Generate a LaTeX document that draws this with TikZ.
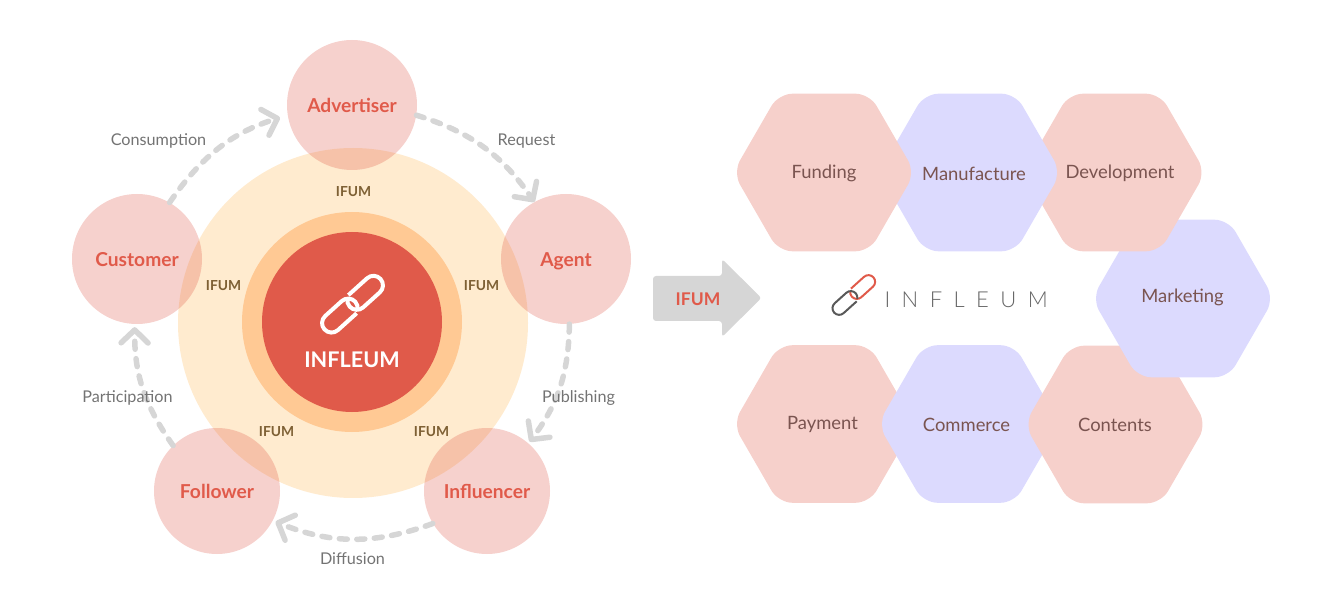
\documentclass[tikz,border=0pt]{standalone}
\usepackage{fontspec}
\setmainfont{Lato}
\newfontfamily\logofont[LetterSpace=52]{Lato Light}
\usetikzlibrary{positioning, arrows.meta, shapes.geometric}

\definecolor{infred}{HTML}{E05A4A}
\definecolor{infpink}{HTML}{F6D0CB}
\definecolor{inflav}{HTML}{DCDAFE}
\definecolor{infsand}{HTML}{FFEBCF}
\definecolor{infpeach}{HTML}{FFC994}
\definecolor{infgray}{HTML}{D6D6D6}
\definecolor{infbrown}{HTML}{7E6034}
\definecolor{infplum}{HTML}{7A5450}

\tikzset{
    role/.style={circle, fill=infred, fill opacity=.28, text opacity=1, text=infred, inner sep=0pt,
        text height=15pt, text depth=0pt, font=\fontsize{19.2}{20}\selectfont\bfseries},
    flow/.style={draw=infgray, line width=5.5pt, line cap=round, dash pattern=on 8pt off 9.5pt,
        -{Straight Barb[length=13pt, width=27pt, round, line width=5.5pt]}},
    flowlabel/.style={text=black!55, text height=12.5pt, text depth=0pt, font=\fontsize{16.2}{18}\selectfont},
    ifumlabel/.style={text=infbrown, text height=11.5pt, text depth=0pt, font=\fontsize{13.8}{18}\selectfont\bfseries},
    hexa/.style={regular polygon, regular polygon sides=6, inner sep=0pt,
        minimum size=182pt, rounded corners=14pt},
    hexlabel/.style={text=infplum, text height=14.5pt, text depth=0pt, font=\fontsize{18.4}{20}\selectfont},
}

\newcommand{\chainlogo}[5]{
    \begin{scope}[shift={(#1)}, x=1pt, y=1pt, rotate=42, scale=#2, line width=#3]
        \draw[#4] (3,9.5) -- (28.2,9.5) arc[start angle=90, end angle=-90, radius=9.5]
            -- (5.8,-9.5) arc[start angle=-90, end angle=-232, radius=9.5];
        \draw[#5] (-3,-9.5) -- (-28.2,-9.5) arc[start angle=-90, end angle=-270, radius=9.5]
            -- (-5.8,9.5) arc[start angle=90, end angle=-52, radius=9.5];
    \end{scope}
}

\begin{document}
\begin{tikzpicture}[x=1pt, y=-1pt]
    \useasboundingbox (0,0) rectangle (1341,601);

    % left ring
    \node[circle, fill=infsand, minimum size=350pt, inner sep=0pt] (outer) at (353,323) {};
    \node[circle, fill=infpeach, minimum size=220pt, inner sep=0pt] (middle) at (352,322) {};
    \node[circle, fill=infred, minimum size=180pt, inner sep=0pt] (core) at (352,322) {};
    \chainlogo{352.5,304.2}{1}{4pt}{white}{white}
    \node[text=white, font=\fontsize{21.6}{26}\selectfont\bfseries] (coretext) at (352,360) {INFLEUM};

    \node[role, minimum size=130pt] (advertiser) at (352,105) {Advertiser};
    \node[role, minimum size=130pt] (agent) at (566,259) {Agent};
    \node[role, minimum size=126pt] (influencer) at (487,491) {Influencer};
    \node[role, minimum size=126pt] (follower) at (217,491) {Follower};
    \node[role, minimum size=130pt] (customer) at (137,259) {Customer};

    \node[ifumlabel] (ifumtop) at (353.5,191) {IFUM};
    \node[ifumlabel] (ifumright) at (481.5,285) {IFUM};
    \node[ifumlabel] (ifumlowright) at (431.5,431) {IFUM};
    \node[ifumlabel] (ifumlowleft) at (276.5,431) {IFUM};
    \node[ifumlabel] (ifumleft) at (223.5,285) {IFUM};

    \draw[flow] (advertiser.-9) to[bend left=19] (agent.119);
    \draw[flow, shorten >=2pt] (agent.-87) to[bend left=18] (influencer.49);
    \draw[flow, shorten >=3pt] (influencer.211) to[bend left=21] (follower.-28);
    \draw[flow, shorten >=3pt] (follower.134) to[bend left=18] (customer.-92);
    \draw[flow, shorten >=8pt] (customer.60) to[bend left=19] (advertiser.189);

    \node[flowlabel] (request) at (526.5,139) {Request};
    \node[flowlabel] (publishing) at (578.5,396) {Publishing};
    \node[flowlabel] (diffusion) at (352.5,558.5) {Diffusion};
    \node[flowlabel] (participation) at (127.5,396) {Participation};
    \node[flowlabel] (consumption) at (158.5,139) {Consumption};

    % middle arrow
    \fill[infgray, rounded corners=3pt] (653,276) -- (722,276) -- (722,259) -- (761.5,298) -- (722,337)
        -- (722,321) -- (653,321) -- cycle;
    \node[text=infred, font=\fontsize{17.5}{20}\selectfont\bfseries] (ifumarrow) at (698,299.5) {IFUM};

    % logo
    \chainlogo{853.8,295}{.7}{2pt}{infred}{black!65}
    \node[text=black!60, font=\fontsize{22}{26}\logofont, anchor=west] (logotext) at (881,300) {INFLEUM};

    % right hexagons
    \node[hexa, fill=infpink] (payment) at (824,424) {};
    \node[hexlabel] (paymenttext) at (822.5,422) {Payment};
    \node[hexa, fill=inflav] (commerce) at (969,424) {};
    \node[hexlabel] (commercetext) at (966.5,424) {Commerce};
    \node[hexa, fill=infpink] (contents) at (1115.5,424.5) {};
    \node[hexlabel] (contentstext) at (1115,424) {Contents};
    \node[hexa, fill=inflav] (marketing) at (1183,298.5) {};
    \node[hexlabel] (marketingtext) at (1182.5,295.5) {Marketing};
    \node[hexa, fill=infpink] (development) at (1114.5,172.5) {};
    \node[hexlabel] (developmenttext) at (1120,171) {Development};
    \node[hexa, fill=inflav] (manufacture) at (970,172.5) {};
    \node[hexlabel] (manufacturetext) at (974,173) {Manufacture};
    \node[hexa, fill=infpink] (funding) at (824,172.5) {};
    \node[hexlabel] (fundingtext) at (824,171) {Funding};
\end{tikzpicture}
\end{document}
